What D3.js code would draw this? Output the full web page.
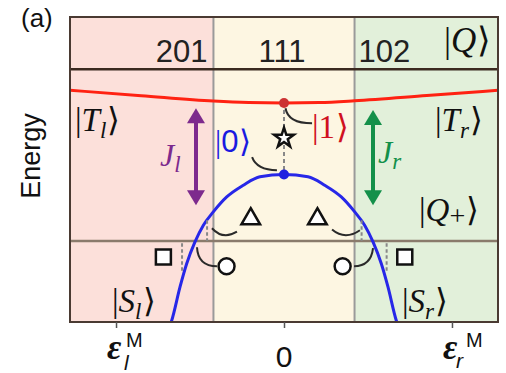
<!DOCTYPE html>
<html><head><meta charset="utf-8">
<script src="https://cdn.jsdelivr.net/npm/d3@7"></script>
<style>body{margin:0;background:#fff}svg{display:block}</style>
</head><body>
<svg id="chart" width="506" height="373"></svg>
<script>
// Detuning ε in units of ε^M, energy relative to the |0⟩ sweet spot.
const regionLabels = ["201", "111", "102"];
const regionEdges = [-1.274, -0.42, 0.42, 1.274];
const energyQ = 1.47;      // |Q⟩ level
const energyS = -0.93;     // singlet crossing level
const tripletT = [[-1.274, 1.177], [-0.85, 1.101], [-0.42, 1.026], [-0.21, 1.006], [0, 1.0],
                  [0.21, 1.006], [0.42, 1.03], [0.85, 1.103], [1.274, 1.177]];
const quadPlus = [[-0.685, -2.15], [-0.668, -2.035], [-0.619, -1.57], [-0.579, -1.243], [-0.53, -0.941],
                  [-0.48, -0.708], [-0.421, -0.522], [-0.341, -0.313], [-0.242, -0.149], [-0.143, -0.031], [0, 0],
                  [0.143, -0.031], [0.242, -0.149], [0.341, -0.313], [0.421, -0.522], [0.48, -0.708],
                  [0.53, -0.941], [0.579, -1.243], [0.619, -1.57], [0.668, -2.035], [0.685, -2.15]];
const tickValues = [-1, 0, 1];
const sweetSpot = { eps: 0, upper: 1.0, lower: 0, star: 0.51 };
const couplings = [{ side: "l", eps: -0.524, from: -0.43, to: 0.926 },
                   { side: "r", eps: 0.53, from: -0.43, to: 0.90 }];
const triangles = [[-0.198, -0.62], [0.199, -0.62]];
const circles = [[-0.342, -1.281], [0.349, -1.281]];
const squares = [[-0.718, -1.151], [0.719, -1.151]];
// short dashed guides: [ε, E from, E to]
const guides = [[-0.458, -0.64, -0.93], [0.462, -0.64, -0.93], [-0.607, -0.96, -1.365], [0.611, -0.96, -1.365]];
// leader curves: start, control, end in (ε, E)
const leaders = [
  [[0.009, 0.926], [0.024, 0.716], [0.167, 0.716]],
  [[-0.19, 0.242], [-0.161, 0.06], [-0.042, 0.06]],
  [[-0.429, -0.75], [-0.363, -0.918], [-0.28, -0.799]],
  [[0.286, -0.768], [0.363, -0.922], [0.452, -0.778]],
  [[-0.518, -1.015], [-0.512, -1.281], [-0.399, -1.281]],
  [[0.53, -1.029], [0.518, -1.281], [0.417, -1.281]]
];

const regionFill = ["#fce0da", "#fdf6e2", "#e2f0da"];
const SANS = "'Liberation Sans', Arial, Helvetica, sans-serif";
const SERIF = "'Liberation Serif', 'Times New Roman', serif";

const svg = d3.select("#chart");
const x = d3.scaleLinear().domain([-1.274, 1.274]).range([70, 498]);
const y = d3.scaleLinear().domain([-2.06, 2.20]).range([322, 17]);
const [x0, x1] = x.range(), [yb, yt] = y.range();

svg.append("defs").append("clipPath").attr("id", "plot")
  .append("rect").attr("x", x0).attr("y", yt).attr("width", x1 - x0).attr("height", yb - yt);

// shaded charge-configuration regions
svg.selectAll("rect.region").data(regionLabels).join("rect").attr("class", "region")
  .attr("x", (d, i) => x(regionEdges[i])).attr("y", yt)
  .attr("width", (d, i) => x(regionEdges[i + 1]) - x(regionEdges[i]))
  .attr("height", yb - yt).attr("fill", (d, i) => regionFill[i]);

// region dividers
svg.selectAll("line.div").data(regionEdges.slice(1, -1)).join("line").attr("class", "div")
  .attr("x1", d => x(d)).attr("x2", d => x(d)).attr("y1", yt).attr("y2", yb)
  .attr("stroke", "#9a9a9a").attr("stroke-width", 2);

// |Q⟩ and singlet levels
svg.append("line").attr("x1", x0).attr("x2", x1).attr("y1", y(energyQ)).attr("y2", y(energyQ))
  .attr("stroke", "#3b2a20").attr("stroke-width", 2.5);
svg.append("line").attr("x1", x0).attr("x2", x1).attr("y1", y(energyS)).attr("y2", y(energyS))
  .attr("stroke", "#8a7b6c").attr("stroke-width", 2.5);

// region labels in the top band
const bandY = 62;
svg.append("text").attr("x", x(regionEdges[1]) - 6).attr("y", bandY).attr("text-anchor", "end")
  .text(regionLabels[0]);
svg.append("text").attr("x", x(0) - 2).attr("y", bandY).attr("text-anchor", "middle")
  .text(regionLabels[1]);
svg.append("text").attr("x", x(regionEdges[2]) + 4).attr("y", bandY).attr("text-anchor", "start")
  .text(regionLabels[2]);
svg.selectAll("text").style("font-family", SANS).style("font-size", "31px").attr("fill", "#222");

const line = d3.line().x(d => x(d[0])).y(d => y(d[1])).curve(d3.curveMonotoneX);
const curves = svg.append("g").attr("clip-path", "url(#plot)");
curves.append("path").datum(tripletT).attr("d", line).attr("fill", "none")
  .attr("stroke", "#ff2212").attr("stroke-width", 3);
curves.append("path").datum(quadPlus).attr("d", line).attr("fill", "none")
  .attr("stroke", "#2727e8").attr("stroke-width", 3);

// guides
svg.append("line").attr("x1", x(sweetSpot.eps)).attr("x2", x(sweetSpot.eps))
  .attr("y1", y(sweetSpot.upper)).attr("y2", y(sweetSpot.lower))
  .attr("stroke", "#888").attr("stroke-width", 2).attr("stroke-dasharray", "4,3");
svg.selectAll("line.guide").data(guides).join("line").attr("class", "guide")
  .attr("x1", d => x(d[0])).attr("x2", d => x(d[0])).attr("y1", d => y(d[1])).attr("y2", d => y(d[2]))
  .attr("stroke", "#888").attr("stroke-width", 2).attr("stroke-dasharray", "3.5,2.5");

// leaders
svg.selectAll("path.leader").data(leaders).join("path").attr("class", "leader")
  .attr("d", d => {
    const p = d3.path();
    p.moveTo(x(d[0][0]), y(d[0][1]));
    p.quadraticCurveTo(x(d[1][0]), y(d[1][1]), x(d[2][0]), y(d[2][1]));
    return p.toString();
  })
  .attr("fill", "none").attr("stroke", "#2a2a2a").attr("stroke-width", 2);

// sweet-spot dots and star
svg.append("circle").attr("cx", x(sweetSpot.eps)).attr("cy", y(sweetSpot.upper)).attr("r", 5).attr("fill", "#cc3333");
svg.append("circle").attr("cx", x(sweetSpot.eps)).attr("cy", y(sweetSpot.lower)).attr("r", 5).attr("fill", "#2020e0");
svg.append("path").attr("d", d3.symbol(d3.symbolStar, 120)())
  .attr("transform", `translate(${x(sweetSpot.eps)},${y(sweetSpot.star)})`)
  .attr("fill", "#fff").attr("stroke", "#111").attr("stroke-width", 2.5).attr("stroke-linejoin", "miter");

// markers
const markerSets = [[triangles, d3.symbolTriangle, 150], [circles, d3.symbolCircle, 200], [squares, d3.symbolSquare, 225]];
markerSets.forEach(([pts, type, size]) => {
  svg.append("g").selectAll("path").data(pts).join("path")
    .attr("d", d3.symbol(type, size)())
    .attr("transform", d => `translate(${x(d[0])},${y(d[1])})`)
    .attr("fill", "#fff").attr("stroke", "#111").attr("stroke-width", 2.5);
});

// exchange arrows
const arrowColor = { l: "#7d2a8d", r: "#14904a" };
couplings.forEach(c => {
  const cx = x(c.eps), top = y(c.to), bot = y(c.from), hl = 15, hw = 9;
  const g = svg.append("g").attr("fill", arrowColor[c.side]);
  g.append("line").attr("x1", cx).attr("x2", cx).attr("y1", top + hl - 1).attr("y2", bot - hl + 1)
    .attr("stroke", arrowColor[c.side]).attr("stroke-width", 4);
  g.append("path").attr("d", `M${cx},${top}L${cx - hw},${top + hl}L${cx + hw},${top + hl}Z`);
  g.append("path").attr("d", `M${cx},${bot}L${cx - hw},${bot - hl}L${cx + hw},${bot - hl}Z`);
});

// frame
svg.append("rect").attr("x", x0).attr("y", yt).attr("width", x1 - x0).attr("height", yb - yt)
  .attr("fill", "none").attr("stroke", "#4a3a32").attr("stroke-width", 2);

// axis ticks
const axis = svg.append("g").attr("transform", `translate(0,${yb})`)
  .call(d3.axisBottom(x).tickValues(tickValues).tickSize(6).tickFormat(""));
axis.select(".domain").remove();
axis.selectAll(".tick line").attr("stroke", "#555").attr("stroke-width", 1.5);

// tick labels
svg.append("text").attr("x", x(0)).attr("y", 367).attr("text-anchor", "middle")
  .style("font-family", SANS).style("font-size", "30px").attr("fill", "#111").text("0");
[[-1, "l", 8, 10, 370], [1, "r", 4, 14, 368]].forEach(([v, sub, sdx, mdx, sy]) => {
  const tx = x(v);
  svg.append("text").attr("x", tx - 9).attr("y", 359)
    .style("font-family", SERIF).style("font-style", "italic").style("font-weight", "bold")
    .style("font-size", "35px").attr("fill", "#111").text("ε");
  svg.append("text").attr("x", tx + sdx).attr("y", sy)
    .style("font-family", SANS).style("font-style", "italic").style("font-size", "21px").attr("fill", "#111").text(sub);
  svg.append("text").attr("x", tx + mdx).attr("y", 347)
    .style("font-family", SANS).style("font-size", "20px").attr("fill", "#111").text("M");
});

// axis title and panel tag
svg.append("text").attr("transform", "translate(40,156) rotate(-90)").attr("text-anchor", "middle")
  .style("font-family", SANS).style("font-size", "27px").attr("fill", "#111").text("Energy");
svg.append("text").attr("x", 21).attr("y", 27)
  .style("font-family", SANS).style("font-size", "26px").attr("fill", "#111").text("(a)");

// state labels
function ket(px, py, size, color, body, opts = {}) {
  const t = svg.append("text").attr("x", px).attr("y", py).attr("fill", color)
    .style("font-family", SERIF).style("font-size", size + "px");
  t.append("tspan").text("|");
  const b = t.append("tspan").text(body);
  if (opts.sans) b.style("font-family", SANS);
  else if (!opts.upright) b.style("font-style", "italic");
  const off = size * (opts.subOff || 0.22);
  if (opts.sub) {
    const s = t.append("tspan").attr("dy", off).style("font-size", (size * (opts.subScale || 0.7)) + "px").text(opts.sub);
    if (!opts.subUpright) s.style("font-style", "italic");
  }
  t.append("tspan").attr("dy", opts.sub ? -off : 0).attr("dx", 1).text("\u27E9");
  return t;
}
ket(75, 131, 33, "#111", "T", { sub: "l" });
ket(435, 131, 33, "#111", "T", { sub: "r" });
ket(419, 221, 33, "#111", "Q", { sub: "+", subUpright: true, subScale: 0.85, subOff: 0.12 });
ket(444, 52, 35, "#111", "Q");
ket(112, 312, 33, "#111", "S", { sub: "l" });
ket(402, 312, 33, "#111", "S", { sub: "r" });
ket(215, 152, 31, "#1a1ae0", "0", { sans: true });
ket(312, 138, 33, "#d01020", "1", { upright: true });

function coupling(px, py, color, sub) {
  const t = svg.append("text").attr("x", px).attr("y", py).attr("fill", color)
    .style("font-family", SERIF).style("font-style", "italic").style("font-size", "32px");
  t.append("tspan").text("J");
  t.append("tspan").attr("dy", 6).style("font-size", "23px").text(sub);
}
coupling(160, 166, arrowColor.l, "l");
coupling(378, 163, arrowColor.r, "r");
</script>
</body></html>
